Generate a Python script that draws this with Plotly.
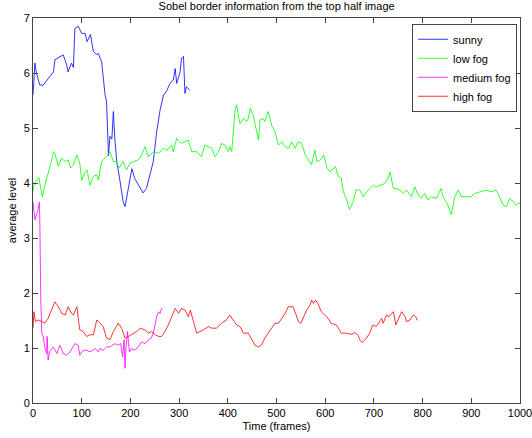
import plotly.graph_objects as go

title_text = "Sobel border information from the top half image"
x_label = "Time (frames)"
y_label = "average level"
series_names = ["sunny", "low fog", "medium fog", "high fog"]
series_colors = ["#0000ff", "#00ff00", "#ff00ff", "#ff0000"]

sunny_frames = [0, 4, 7, 14, 21, 31, 42, 45, 55, 62, 69, 72, 79, 83, 86, 93, 100, 107, 111, 118,
                124, 131, 134, 141, 148, 151, 155, 158, 162, 165, 168, 172, 179, 185, 189, 196,
                200, 203, 209, 220, 226, 233, 240, 247, 254, 261, 268, 275, 281, 288, 292, 295,
                302, 305, 309, 312, 315, 322]
sunny_level = [5.6, 6.18, 6.0, 5.78, 5.78, 5.9, 6.02, 6.24, 6.3, 6.33, 6.15, 6.02, 6.18, 6.1,
               6.81, 6.85, 6.72, 6.72, 6.57, 6.7, 6.39, 6.33, 6.36, 6.2, 5.6, 5.48, 4.5, 4.85,
               4.8, 5.3, 4.8, 4.39, 4.02, 3.66, 3.57, 3.9, 4.08, 4.26, 4.08, 3.9, 3.82, 3.9,
               4.15, 4.39, 4.93, 5.33, 5.6, 5.68, 5.81, 5.87, 6.08, 5.81, 6.02, 6.27, 6.3,
               5.63, 5.75, 5.69]

lowfog_frames = [0, 3, 8, 12, 19, 26, 36, 42, 45, 52, 59, 66, 72, 77, 83, 90, 96, 100, 107, 111,
                 117, 124, 131, 134, 141, 148, 151, 158, 165, 172, 176, 185, 192, 199, 206, 216,
                 223, 230, 237, 247, 258, 268, 275, 285, 288, 295, 305, 312, 319, 326, 336, 346,
                 353, 360, 367, 374, 381, 387, 394, 401, 404, 408, 411, 415, 418, 421, 425, 432,
                 439, 442, 446, 452, 456, 463, 466, 473, 476, 480, 483, 490, 497, 504, 511, 518,
                 525, 531, 538, 545, 552, 559, 566, 572, 579, 583, 590, 597, 604, 610, 621, 627,
                 633, 637, 643, 650, 657, 664, 671, 678, 685, 695, 699, 705, 712, 722, 729, 733,
                 740, 746, 753, 760, 767, 777, 784, 791, 797, 804, 811, 818, 828, 838, 842, 852,
                 859, 866, 873, 880, 890, 900, 907, 921, 931, 941, 951, 958, 965, 972, 979, 983,
                 992, 996, 1000]
lowfog_level = [3.85, 4.0, 4.05, 4.1, 3.75, 4.02, 4.33, 4.57, 4.54, 4.3, 4.45, 4.39, 4.42, 4.27,
                4.33, 4.51, 4.36, 4.05, 4.2, 4.24, 3.96, 4.12, 4.15, 4.05, 4.39, 4.45, 4.48,
                4.57, 4.39, 4.39, 4.27, 4.39, 4.24, 4.36, 4.39, 4.42, 4.51, 4.66, 4.48, 4.57,
                4.54, 4.63, 4.6, 4.69, 4.57, 4.81, 4.72, 4.75, 4.78, 4.57, 4.57, 4.48, 4.69,
                4.66, 4.63, 4.48, 4.57, 4.72, 4.69, 4.57, 4.66, 4.57, 4.93, 5.33, 5.42, 5.24,
                5.08, 5.17, 5.12, 5.17, 5.36, 5.24, 5.05, 4.78, 5.15, 5.17, 5.12, 5.21, 5.3,
                5.05, 4.93, 4.69, 4.75, 4.66, 4.63, 4.75, 4.63, 4.75, 4.72, 4.51, 4.42, 4.33,
                4.6, 4.39, 4.42, 4.51, 4.27, 4.2, 4.3, 4.12, 4.09, 3.85, 3.72, 3.52, 3.65, 3.88,
                3.87, 3.75, 3.84, 3.93, 3.96, 3.93, 3.96, 3.99, 4.09, 4.2, 3.9, 3.9, 3.87, 3.81,
                3.87, 3.75, 3.93, 3.78, 3.72, 3.81, 3.69, 3.75, 3.72, 3.9, 3.75, 3.6, 3.42, 3.75,
                3.87, 3.75, 3.75, 3.75, 3.81, 3.84, 3.87, 3.84, 3.87, 3.75, 3.6, 3.57, 3.72,
                3.69, 3.6, 3.63, 3.63]

medfog_frames = [0, 4, 8, 11, 13, 14, 16, 18, 21, 24, 28, 29, 31, 34, 42, 49, 55, 62, 69, 76, 86,
                 93, 96, 103, 110, 117, 128, 134, 137, 144, 151, 158, 168, 175, 180, 184, 187,
                 189, 191, 194, 198, 203, 209, 216, 223, 230, 237, 243, 247, 251, 254, 258, 261,
                 264, 266]
medfog_level = [3.65, 3.33, 3.45, 3.54, 3.65, 3.33, 1.87, 1.27, 1.21, 1.02, 0.9, 1.21, 0.78,
                0.93, 1.02, 0.9, 1.05, 0.9, 0.87, 0.93, 1.08, 1.05, 0.87, 0.96, 0.96, 0.93, 0.99,
                0.93, 0.99, 0.96, 1.02, 1.02, 1.08, 1.05, 1.08, 0.84, 1.15, 0.63, 1.02, 1.3, 0.93,
                0.99, 0.96, 1.02, 1.11, 1.08, 1.15, 1.18, 1.27, 1.45, 1.57, 1.66, 1.63, 1.72,
                1.72]

highfog_frames = [0, 2, 5, 11, 18, 24, 31, 38, 45, 52, 59, 66, 72, 79, 83, 90, 93, 96, 103, 110,
                  117, 124, 131, 137, 144, 151, 158, 165, 175, 182, 189, 196, 206, 213, 220, 230,
                  237, 243, 251, 258, 264, 271, 278, 285, 292, 299, 305, 312, 319, 323, 329, 336,
                  343, 350, 360, 367, 377, 387, 397, 404, 411, 418, 425, 432, 442, 449, 456, 463,
                  469, 476, 483, 490, 497, 504, 511, 518, 524, 534, 538, 545, 550, 555, 562, 569,
                  572, 576, 580, 585, 592, 599, 606, 612, 623, 633, 643, 654, 661, 667, 671, 676,
                  685, 691, 698, 705, 709, 712, 716, 719, 726, 731, 736, 740, 745, 750, 757, 764,
                  767, 774, 781, 786, 789]
highfog_level = [1.36, 1.66, 1.48, 1.51, 1.48, 1.45, 1.54, 1.69, 1.84, 1.75, 1.63, 1.6, 1.75,
                 1.63, 1.6, 1.75, 1.51, 1.33, 1.3, 1.21, 1.24, 1.24, 1.51, 1.45, 1.39, 1.18, 1.15,
                 1.3, 1.45, 1.36, 1.18, 1.21, 1.27, 1.3, 1.36, 1.33, 1.27, 1.3, 1.24, 1.21, 1.21,
                 1.3, 1.42, 1.57, 1.72, 1.63, 1.72, 1.69, 1.57, 1.69, 1.51, 1.27, 1.3, 1.33, 1.39,
                 1.36, 1.36, 1.45, 1.51, 1.6, 1.51, 1.42, 1.39, 1.27, 1.27, 1.15, 1.05, 1.02,
                 1.05, 1.18, 1.27, 1.36, 1.45, 1.45, 1.54, 1.63, 1.75, 1.75, 1.66, 1.48, 1.45,
                 1.54, 1.69, 1.78, 1.87, 1.81, 1.87, 1.81, 1.66, 1.6, 1.54, 1.45, 1.42, 1.27, 1.27,
                 1.25, 1.28, 1.24, 1.15, 1.1, 1.18, 1.27, 1.42, 1.39, 1.45, 1.48, 1.54, 1.45, 1.6,
                 1.57, 1.63, 1.66, 1.42, 1.51, 1.66, 1.57, 1.48, 1.51, 1.6, 1.57, 1.5]

x_ticks = [0, 100, 200, 300, 400, 500, 600, 700, 800, 900, 1000]
y_ticks = [0, 1, 2, 3, 4, 5, 6, 7]

all_series = [
    (sunny_frames, sunny_level),
    (lowfog_frames, lowfog_level),
    (medfog_frames, medfog_level),
    (highfog_frames, highfog_level),
]

FONT = "Liberation Sans, Arial, sans-serif"

fig = go.Figure()
for name, color, (xs, ys) in zip(series_names, series_colors, all_series):
    fig.add_trace(go.Scatter(x=xs, y=ys, mode="lines", name=name,
                             line=dict(color=color, width=0.8)))

axis_common = dict(
    showgrid=False, zeroline=False, showline=True, linecolor="#444444", linewidth=1,
    mirror="ticks", ticks="inside", ticklen=5, tickcolor="#444444", automargin=False,
    ticklabeloverflow="allow",
    tickfont=dict(family=FONT, size=11, color="black"),
)

fig.update_layout(
    width=532, height=438,
    margin=dict(l=33, r=12, t=18, b=35),
    paper_bgcolor="white", plot_bgcolor="white",
    font=dict(family=FONT, size=11, color="black"),
    title=dict(text=title_text, x=0.52, xanchor="center", y=1.0, yanchor="top",
               yref="container", pad=dict(t=2),
               font=dict(family=FONT, size=11, color="black")),
    xaxis=dict(range=[0, 1000], tickvals=x_ticks,
               title=dict(text=x_label, standoff=4, font=dict(family=FONT, size=11)),
               **axis_common),
    yaxis=dict(range=[0, 7], tickvals=y_ticks,
               title=dict(text=y_label, standoff=4, font=dict(family=FONT, size=11)),
               **axis_common),
    legend=dict(x=0.994, y=0.985, xanchor="right", yanchor="top",
                bgcolor="white", bordercolor="#444444", borderwidth=1,
                font=dict(family=FONT, size=11, color="black"),
                tracegroupgap=0, itemwidth=30),
    showlegend=True,
)

fig.write_html("out.html",
               config={"displayModeBar": False},
               post_script="document.body.style.margin='0';document.body.style.overflow='hidden';")
